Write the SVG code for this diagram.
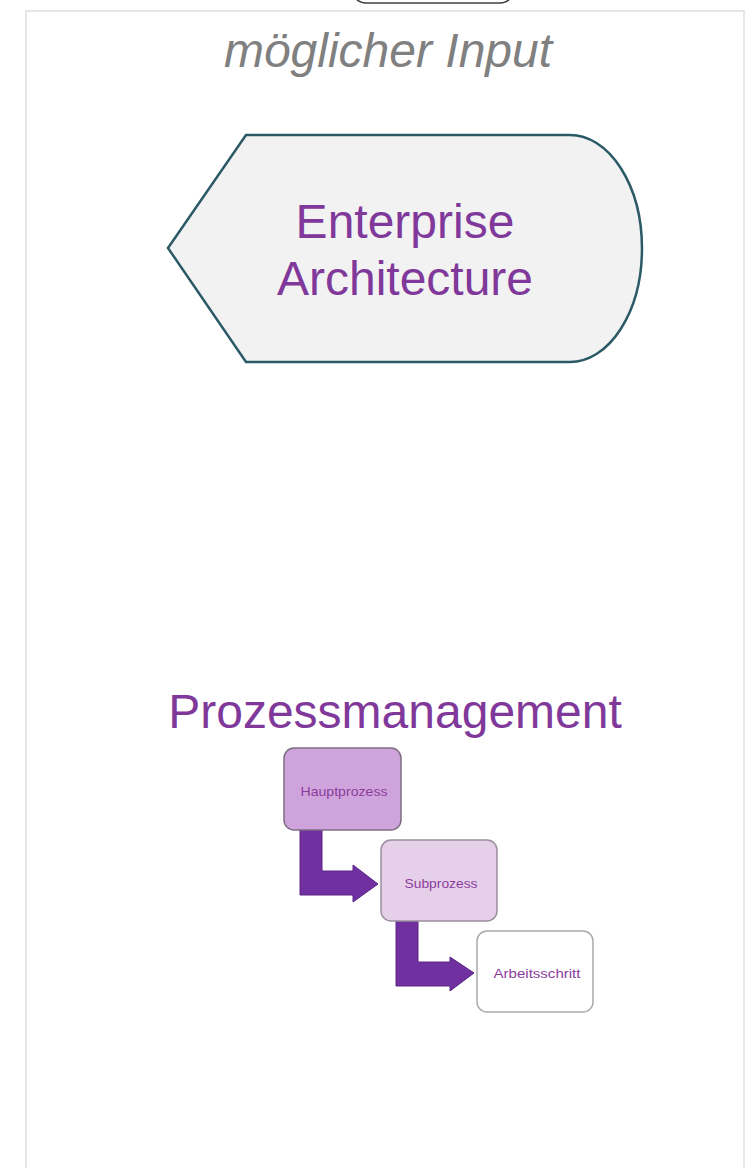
<svg xmlns="http://www.w3.org/2000/svg" width="753" height="1168" viewBox="0 0 753 1168">
<style>
.big{font-family:"Liberation Sans",Arial,sans-serif;font-size:48px;fill:#80399a;text-anchor:middle}
.small{font-family:"Liberation Sans",Arial,sans-serif;font-size:13px;fill:#8b3d9c;text-anchor:middle}
.arrow{fill:#7030a0;stroke:#5a2585;stroke-width:1}
</style>
<rect width="753" height="1168" fill="#ffffff"/>
<g id="top-partial">
<rect x="352" y="-40" width="162" height="43" rx="14" fill="#ffffff" stroke="#404040" stroke-width="1.5"/>
</g>
<g id="container">
<rect x="26" y="11" width="718" height="1200" fill="#ffffff" stroke="#e6e6e6" stroke-width="2"/>
<text x="388" y="67" font-family="'Liberation Sans',Arial,sans-serif" font-size="48" font-style="italic" fill="#808080" text-anchor="middle">möglicher Input</text>
</g>
<g id="enterprise-architecture">
<path d="M246,135 H570 A72,113.5 0 0 1 570,362 H246 L168,248 Z" fill="#f2f2f2" stroke="#2b5a66" stroke-width="2.5"/>
<text class="big" x="405" y="238">Enterprise</text>
<text class="big" x="405" y="295">Architecture</text>
</g>
<g id="prozessmanagement-title">
<text class="big" x="395" y="728">Prozessmanagement</text>
</g>
<g id="connectors">
<polygon class="arrow" points="300,830 322,830 322,871 353,871 353,865 378,884 353,902 353,895 300,895"/>
<polygon class="arrow" points="396,921 418,921 418,962 450,962 450,957 474,973 450,991 450,986 396,986"/>
</g>
<g id="hauptprozess">
<rect x="284" y="748" width="117" height="82" rx="10" fill="#cfa3dc" stroke="#7d6e84" stroke-width="1.5"/>
<text class="small" x="344" y="796" textLength="87" lengthAdjust="spacingAndGlyphs">Hauptprozess</text>
</g>
<g id="subprozess">
<rect x="381" y="840" width="116" height="81" rx="10" fill="#e6cfe9" stroke="#9b8ea0" stroke-width="1.5"/>
<text class="small" x="441" y="888" textLength="73" lengthAdjust="spacingAndGlyphs">Subprozess</text>
</g>
<g id="arbeitsschritt">
<rect x="477" y="931" width="116" height="81" rx="10" fill="#ffffff" stroke="#aaaaaa" stroke-width="1.5"/>
<text class="small" x="537" y="978" textLength="87" lengthAdjust="spacingAndGlyphs">Arbeitsschritt</text>
</g>
</svg>
